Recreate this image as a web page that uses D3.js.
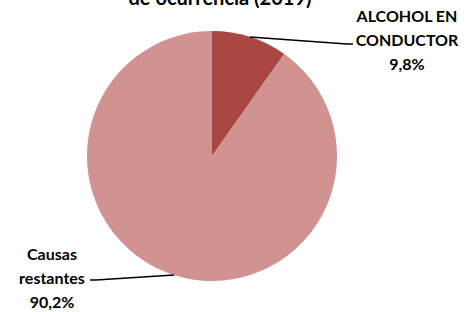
<!DOCTYPE html>
<html><head><meta charset="utf-8">
<script src="https://cdn.jsdelivr.net/npm/d3@7"></script>
<style>body{margin:0;background:#fff}svg{display:block}</style>
</head><body>
<script>
const categories = ["ALCOHOL EN CONDUCTOR", "Causas restantes"];
const values = [9.8, 90.2];
const labelLines = [["ALCOHOL EN", "CONDUCTOR", "9,8%"], ["Causas", "restantes", "90,2%"]];
const titleText = "de ocurrencia (2019)";

const W = 466, H = 312;
const cx = 212, cy = 156, R = 125;
const colors = d3.scaleOrdinal().domain(categories).range(["#A94745", "#D09391"]);
const font = "Lato, 'Open Sans', sans-serif";

const svg = d3.select("body").append("svg").attr("width", W).attr("height", H);

svg.append("text").attr("x", 220).attr("y", 5).attr("text-anchor", "middle")
  .attr("font-family", font).attr("font-weight", "bold").attr("font-size", 20)
  .attr("fill", "#000").text(titleText);

const pie = d3.pie().sort(null).value(d => d)(values);
const arc = d3.arc().innerRadius(0).outerRadius(R);
const g = svg.append("g").attr("transform", `translate(${cx},${cy})`);
g.selectAll("path").data(pie).join("path")
  .attr("d", arc).attr("fill", (d, i) => colors(categories[i]));

// label anchors (layout)
const labelPos = [{x: 407, y: 16, lineEnd: [353, 44], elbow: [347, 44]},
                  {x: 52, y: 254, lineEnd: [90, 280], elbow: [96, 280]}];
const lh = 24;

pie.forEach((d, i) => {
  const a = (d.startAngle + d.endAngle) / 2;
  const px = cx + R * Math.sin(a), py = cy - R * Math.cos(a);
  const lp = labelPos[i];
  svg.append("polyline")
    .attr("points", [[px, py], lp.elbow, lp.lineEnd].map(p => p.join(",")).join(" "))
    .attr("fill", "none").attr("stroke", "#000").attr("stroke-width", 1.5);
  const t = svg.append("text").attr("text-anchor", "middle")
    .attr("font-family", font).attr("font-weight", "bold").attr("font-size", 16)
    .attr("fill", "#000");
  labelLines[i].forEach((s, j) => {
    t.append("tspan").attr("x", lp.x).attr("y", lp.y + j * lh).attr("dy", "0.35em").text(s);
  });
});
</script>
</body></html>
